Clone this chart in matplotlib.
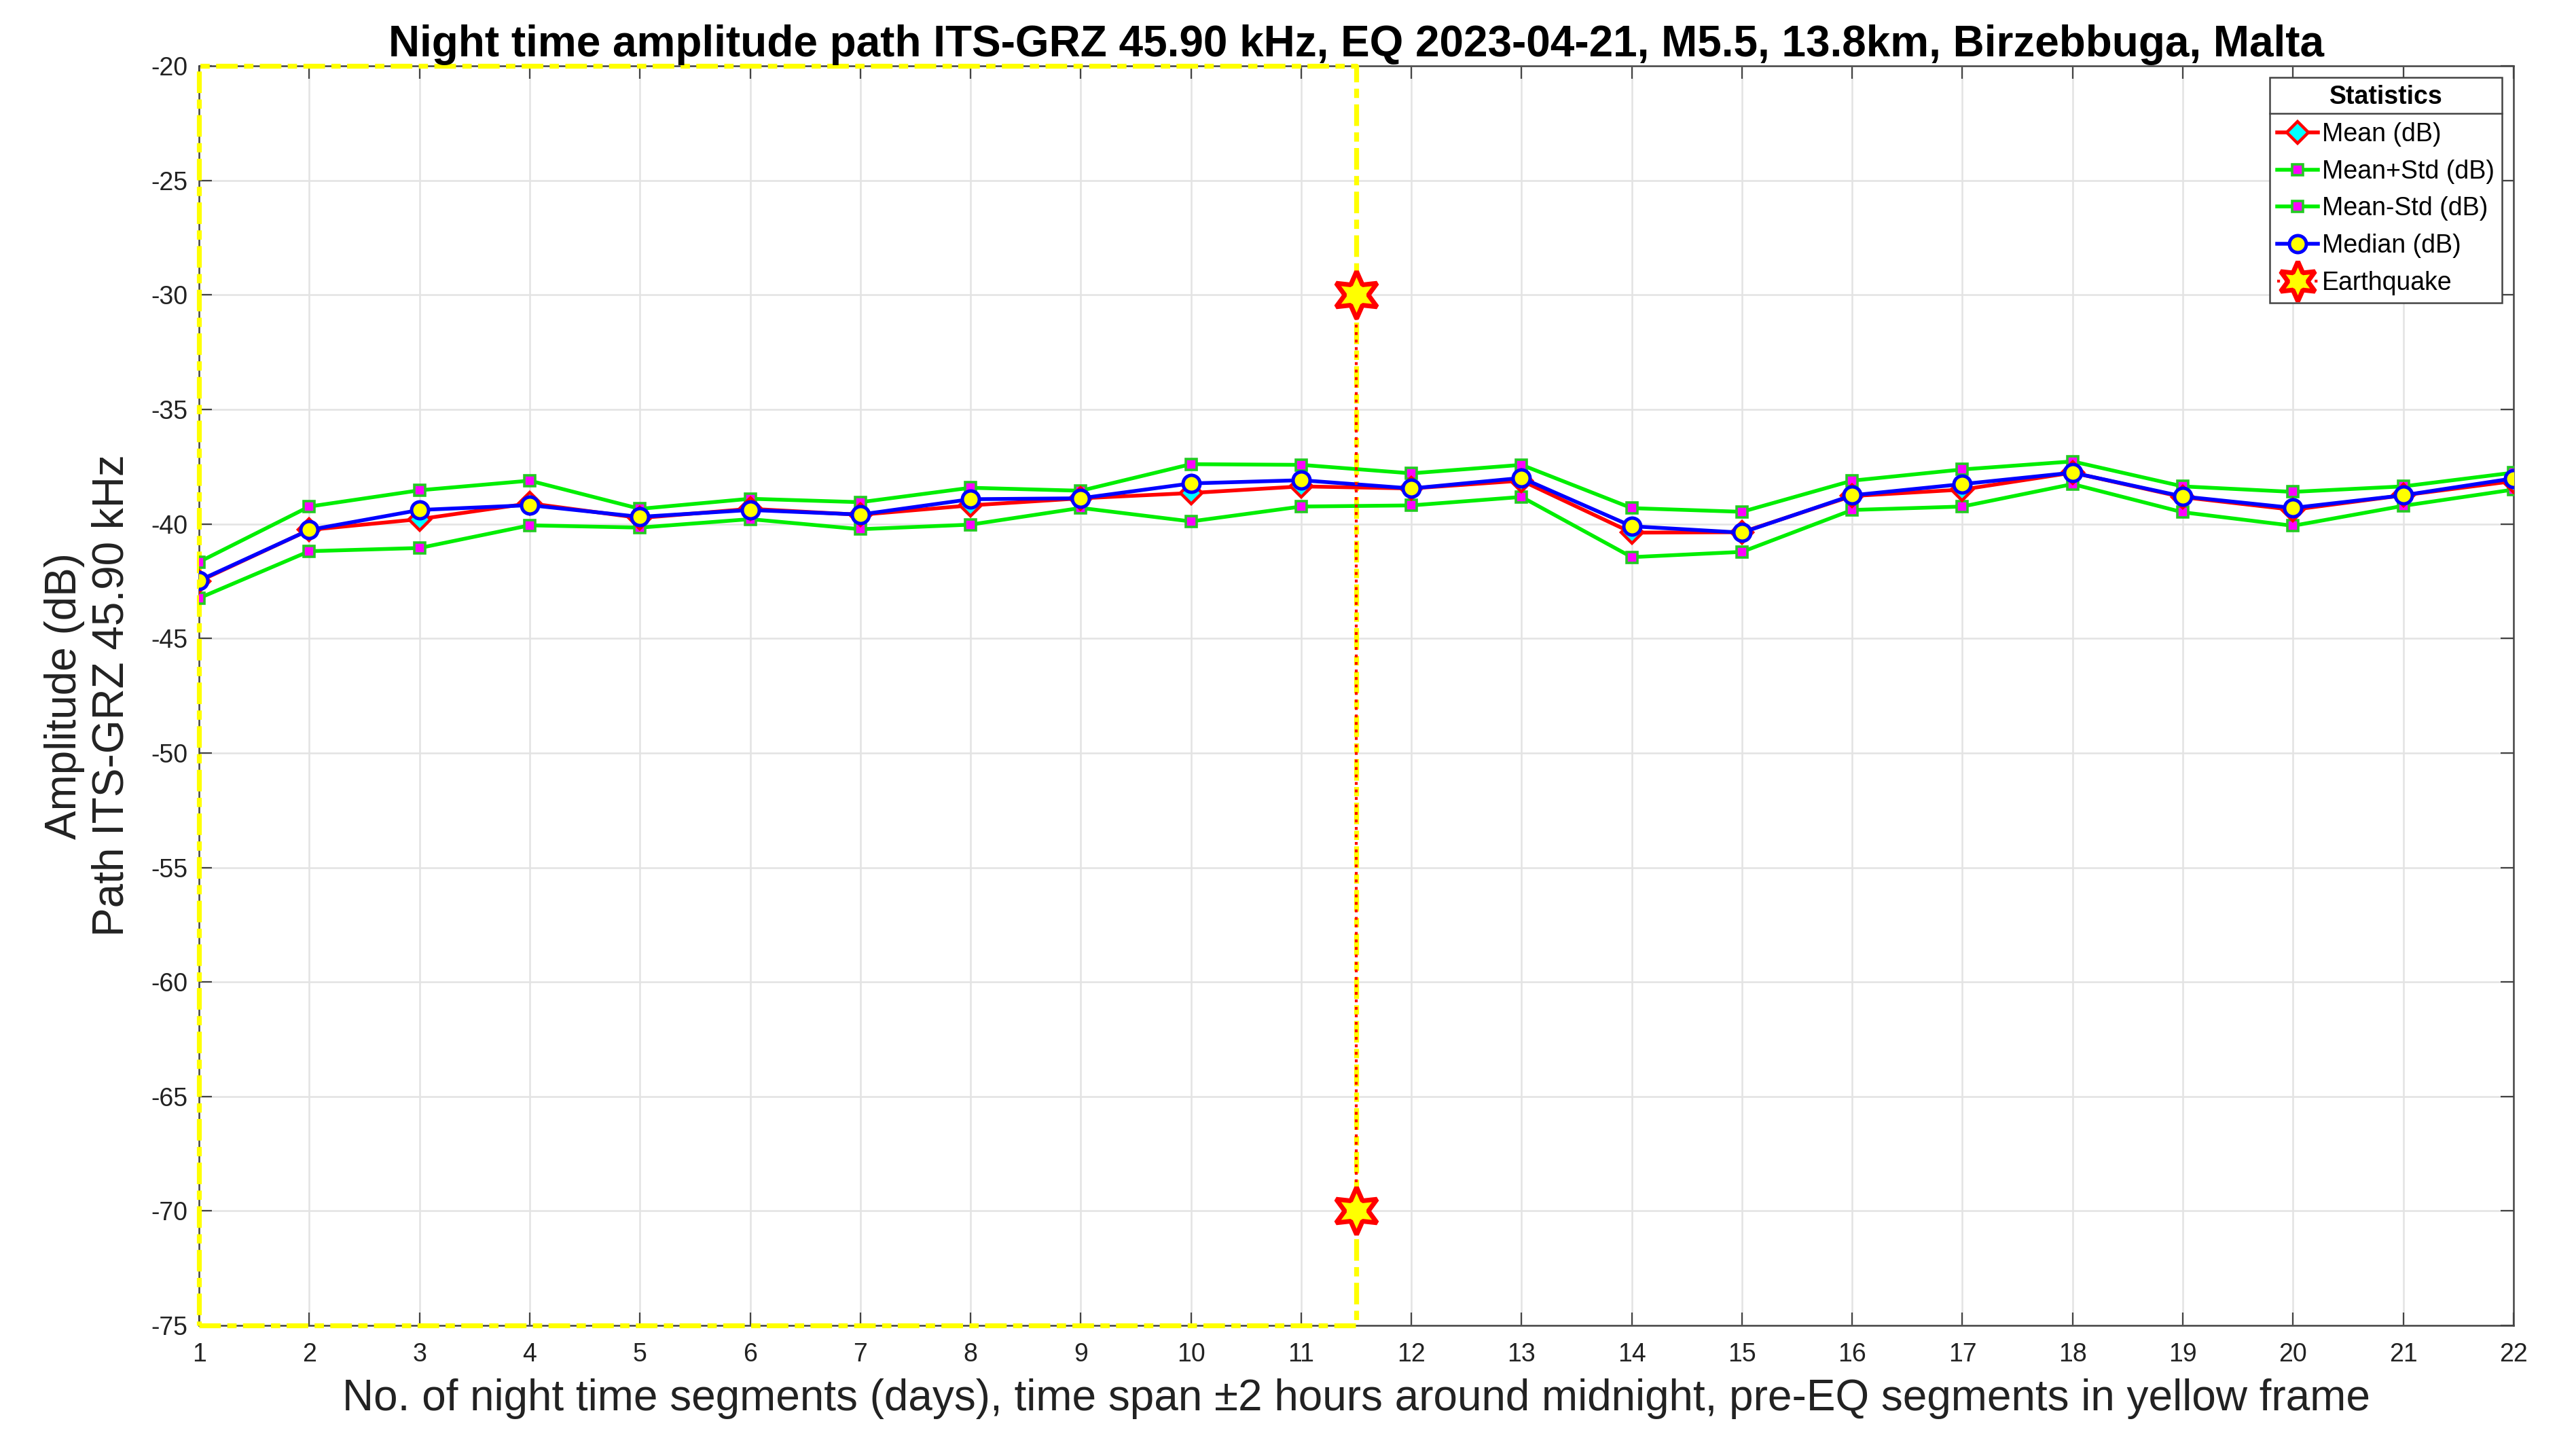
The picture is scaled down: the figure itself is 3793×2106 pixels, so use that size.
import numpy as np
import matplotlib
matplotlib.use('Agg')
import matplotlib.pyplot as plt
from matplotlib.lines import Line2D

plt.rcParams['font.family'] = ['Liberation Sans', 'DejaVu Sans']
plt.rcParams['axes.unicode_minus'] = False

# ── data ──
days = list(range(1, 23))
mean_db = [-42.5, -40.26, -39.79, -39.1, -39.74, -39.34, -39.6, -39.19, -38.88, -38.65, -38.36,
           -38.45, -38.11, -40.38, -40.36, -38.78, -38.5, -37.76, -38.83, -39.38, -38.75, -38.13]
mean_plus_std = [-41.66, -39.24, -38.53, -38.11, -39.34, -38.9, -39.05, -38.42, -38.55, -37.39, -37.42,
                 -37.79, -37.42, -39.31, -39.47, -38.11, -37.62, -37.27, -38.36, -38.6, -38.36, -37.76]
mean_minus_std = [-43.24, -41.19, -41.05, -40.06, -40.16, -39.79, -40.23, -40.03, -39.3, -39.89, -39.24,
                  -39.19, -38.82, -41.45, -41.22, -39.39, -39.24, -38.26, -39.49, -40.08, -39.21, -38.5]
median_db = [-42.47, -40.26, -39.39, -39.18, -39.69, -39.39, -39.59, -38.92, -38.88, -38.23, -38.09,
             -38.45, -37.99, -40.1, -40.38, -38.75, -38.26, -37.76, -38.8, -39.3, -38.75, -38.01]
eq_day = 11.5
eq_marks = [-30, -70]
frame_x = [1, 11.5]
ylim = [-75, -20]

fig = plt.figure(figsize=(18.965, 10.53), dpi=200)
ax = fig.add_axes([0.0773, 0.0731, 0.8984, 0.8808])

# yellow pre-EQ frame
fx0, fx1 = frame_x
ax.plot([fx0, fx1, fx1, fx0, fx0], [ylim[0], ylim[0], ylim[1], ylim[1], ylim[0]],
        color='yellow', lw=2.6, ls=(0, (4.4, 1.3, 1.9, 1.3)), zorder=3, clip_on=False)

ax.plot(days, mean_db, '-D', color='red', lw=2.0, ms=8, mfc='cyan', mec='red', mew=1.6,
        label='Mean (dB)', zorder=5)
ax.plot(days, mean_plus_std, '-s', color='#00ee00', lw=2.0, ms=6, mfc='magenta', mec='#22cc22',
        mew=1.3, label='Mean+Std (dB)', zorder=4)
ax.plot(days, mean_minus_std, '-s', color='#00ee00', lw=2.0, ms=6, mfc='magenta', mec='#22cc22',
        mew=1.3, label='Mean-Std (dB)', zorder=4)
ax.plot(days, median_db, '-o', color='blue', lw=2.0, ms=9, mfc='yellow', mec='blue', mew=1.8,
        label='Median (dB)', zorder=6)
ax.plot([eq_day] * len(eq_marks), eq_marks, ls=':', color='red', lw=1.5, marker=(6, 1, 0),
        ms=25, mfc='yellow', mec='red', mew=2.5, label='Earthquake', zorder=7, clip_on=False)

ax.set_xlim(1, 22)
ax.set_ylim(*ylim)
ax.set_xticks(days)
ax.set_yticks(np.arange(-75, -19, 5))
ax.grid(True, color='#e3e3e3', lw=0.9)
ax.set_axisbelow(True)
ax.tick_params(direction='in', top=True, right=True, labelsize=13.5, length=7, color='#444444',
               labelcolor='#222222')
ax.tick_params(axis='x', pad=9)
ax.tick_params(axis='y', pad=6)
for s in ax.spines.values():
    s.set_color('#444444')
    s.set_linewidth(0.9)

ax.set_title('Night time amplitude path ITS-GRZ 45.90 kHz, EQ 2023-04-21, M5.5, 13.8km, Birzebbuga, Malta',
             fontsize=23, fontweight='bold', pad=5)
ax.set_xlabel('No. of night time segments (days), time span \u00b12 hours around midnight, pre-EQ segments in yellow frame',
              fontsize=23, labelpad=6, color='#222222')
ax.set_ylabel('Amplitude (dB)\nPath ITS-GRZ 45.90 kHz', fontsize=23, labelpad=10, color='#222222')

leg = ax.legend(loc='upper right', title='Statistics', fontsize=13.5,
                title_fontproperties={'weight': 'bold', 'size': 13.5},
                fancybox=False, edgecolor='#444444', framealpha=1, borderaxespad=0.45,
                labelspacing=0.5, handlelength=1.6, handletextpad=0.15, borderpad=0.3)
leg.get_frame().set_linewidth(0.9)
for h in leg.legend_handles:
    if h.get_label() == 'Earthquake':
        h.set_markersize(21)

# separator line under legend title
fig.canvas.draw()
r = fig.canvas.get_renderer()
fb = leg.get_frame().get_window_extent(r)
tb = leg.get_title().get_window_extent(r)
inv = fig.transFigure.inverted()
ysep = tb.y0 - 6
(x0, y0), (x1, y1) = inv.transform([(fb.x0, ysep), (fb.x1, ysep)])
fig.add_artist(Line2D([x0, x1], [y0, y1], transform=fig.transFigure, color='#444444', lw=0.9))

fig.savefig('out.png', dpi=200, facecolor='white')
